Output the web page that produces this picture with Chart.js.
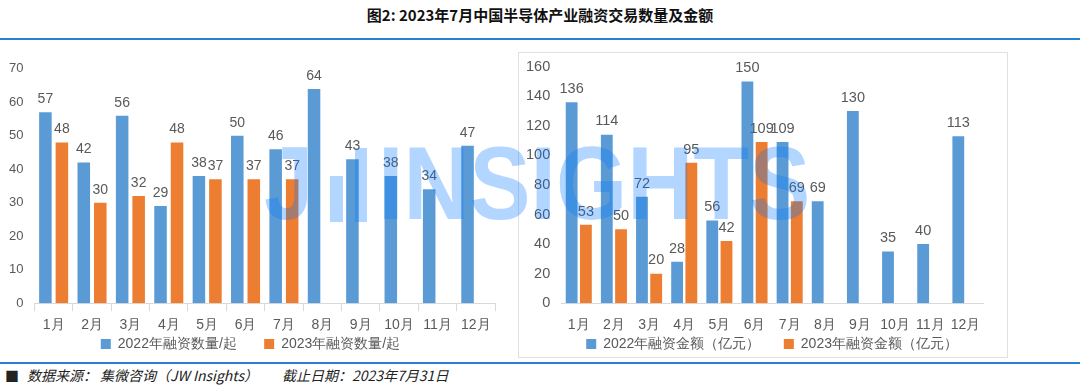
<!DOCTYPE html>
<html>
<head>
<meta charset="utf-8">
<script src="https://cdn.jsdelivr.net/npm/chart.js@4.4.0/dist/chart.umd.min.js"></script>
<style>
  body { margin: 0; background: #fff; font-family: "Liberation Sans", "Noto Sans CJK SC", sans-serif; }
  #page { position: relative; width: 1080px; height: 385px; overflow: hidden; }
  #title { position: absolute; top: 4px; left: 0; width: 1080px; text-align: center; font-size: 15px; font-weight: bold; color: #111; font-family: "Noto Sans CJK SC", sans-serif; }
  .rule { position: absolute; left: 0; width: 1080px; height: 2px; background: #2b7fd3; }
  #left { position: absolute; left: 0; top: 58px; width: 512px; height: 303px; }
  #rightBox { position: absolute; left: 518px; top: 52px; width: 488px; height: 304px; border: 1px solid #e0e0e0; }
  #right { position: absolute; left: 519px; top: 55px; width: 488px; height: 306px; }
  .foot { position: absolute; top: 366px; font-size: 14px; font-style: italic; color: #222; font-family: "Noto Sans CJK SC", sans-serif; white-space: pre; line-height: 18px; }
  #wm { position: absolute; left: 264px; top: 128px; height: 110px; pointer-events: none; color: rgba(0,120,255,0.3); font-family: "Liberation Sans", sans-serif; font-weight: bold; font-size: 104px; line-height: 110px; white-space: nowrap; }
  #wm span { display: inline-block; }
  .wbar { position: absolute; background: rgba(0,120,255,0.3); }
</style>
</head>
<body>
<div id="page">
  <div id="title">图2: 2023年7月中国半导体产业融资交易数量及金额</div>
  <div class="rule" style="top:38px"></div>
  <div id="rightBox"></div>
  <div id="left"><canvas id="countChart"></canvas></div>
  <div id="right"><canvas id="amountChart"></canvas></div>
  <div class="rule" style="top:362px"></div>
  <div class="foot" style="left:5px;font-style:normal">■</div>
  <div class="foot" style="left:27px">数据来源：</div>
  <div class="foot" style="left:100px">集微咨询（JW Insights）</div>
  <div class="foot" style="left:282px">截止日期：2023年7月31日</div>
  <div id="wm">
    <span style="position:absolute;left:0;top:0;transform:scaleX(0.85);transform-origin:left">J</span>
    <div class="wbar" style="left:66px;top:48px;width:13px;height:46px"></div>
    <div class="wbar" style="left:91px;top:20px;width:12px;height:74px"></div>
    <span style="position:absolute;left:114px;top:0;transform:scaleX(0.88);transform-origin:left">INSIGHTS</span>
  </div>
</div>
<script>
const months = ["1月", "2月", "3月", "4月", "5月", "6月", "7月", "8月", "9月", "10月", "11月", "12月"];

const count2022 = [57, 42, 56, 29, 38, 50, 46, 64, 43, 38, 34, 47];
const count2023 = [48, 30, 32, 48, 37, 37, 37, null, null, null, null, null];

const amount2022 = [136, 114, 72, 28, 56, 150, 109, 69, 130, 35, 40, 113];
const amount2023 = [53, 50, 20, 95, 42, 109, 69, null, null, null, null, null];

const blue = "#5b9bd5";
const orange = "#ed7d31";
const grey = "#595959";

// draw the numbers above each bar
const barLabels = {
  id: "barLabels",
  afterDatasetsDraw(chart, args, opts) {
    const ctx = chart.ctx;
    ctx.save();
    ctx.font = opts.size + "px 'Liberation Sans', sans-serif";
    ctx.fillStyle = grey;
    ctx.textAlign = "center";
    ctx.textBaseline = "bottom";
    chart.data.datasets.forEach((ds, i) => {
      chart.getDatasetMeta(i).data.forEach((bar, j) => {
        const v = ds.data[j];
        if (v == null) return;
        ctx.fillText(v, bar.x, bar.y - 6);
      });
    });
    ctx.restore();
  },
};

// wider gap between the two legend items without extra vertical padding
function spacedLabels(n) {
  return (chart) => {
    const items = Chart.defaults.plugins.legend.labels.generateLabels(chart);
    items[0].text += " ".repeat(n);
    return items;
  };
}

function barChart(id, labels, a, b, names, yMax, step, opt) {
  return new Chart(document.getElementById(id), {
    type: "bar",
    data: {
      labels: labels,
      datasets: [
        { label: names[0], data: a, backgroundColor: blue, categoryPercentage: opt.cat, barPercentage: opt.bar },
        { label: names[1], data: b, backgroundColor: orange, categoryPercentage: opt.cat, barPercentage: opt.bar },
      ],
    },
    options: {
      responsive: true,
      maintainAspectRatio: false,
      animation: false,
      layout: { padding: { top: opt.top, right: opt.right, left: opt.left } },
      plugins: {
        legend: {
          position: "bottom",
          fullSize: opt.fullLegend,
          labels: {
            boxWidth: 10, boxHeight: 10, color: grey, font: { size: 14 }, padding: 4,
            generateLabels: spacedLabels(opt.spaces),
          },
        },
        tooltip: { enabled: false },
        barLabels: { size: opt.label },
      },
      scales: {
        x: {
          grid: { display: true, drawOnChartArea: false, color: "#d9d9d9", tickColor: opt.tickColor, tickLength: 8 },
          border: { color: "#d9d9d9" },
          ticks: { color: grey, font: { size: 14 }, maxRotation: 0, autoSkip: false, padding: 6 },
          afterFit: (s) => { s.height -= 7; },
        },
        y: {
          min: 0,
          max: yMax,
          grid: { display: false },
          border: { display: false },
          ticks: { stepSize: step, color: grey, font: { size: opt.tick } },
        },
      },
    },
    plugins: [barLabels],
  });
}

barChart("countChart", months, count2022, count2023,
  ["2022年融资数量/起", "2023年融资数量/起"], 70, 10,
  { cat: 0.86, bar: 0.76, top: 8, right: 17, left: 6, tick: 13, label: 14, tickColor: "#d9d9d9", fullLegend: true, spaces: 6 });
barChart("amountChart", months, amount2022, amount2023,
  ["2022年融资金额（亿元）", "2023年融资金额（亿元）"], 160, 20,
  { cat: 0.81, bar: 0.83, top: 0, right: 24, left: 4, tick: 14.5, label: 14.5, tickColor: "rgba(0,0,0,0)", fullLegend: false, spaces: 5 });
</script>
</body>
</html>
